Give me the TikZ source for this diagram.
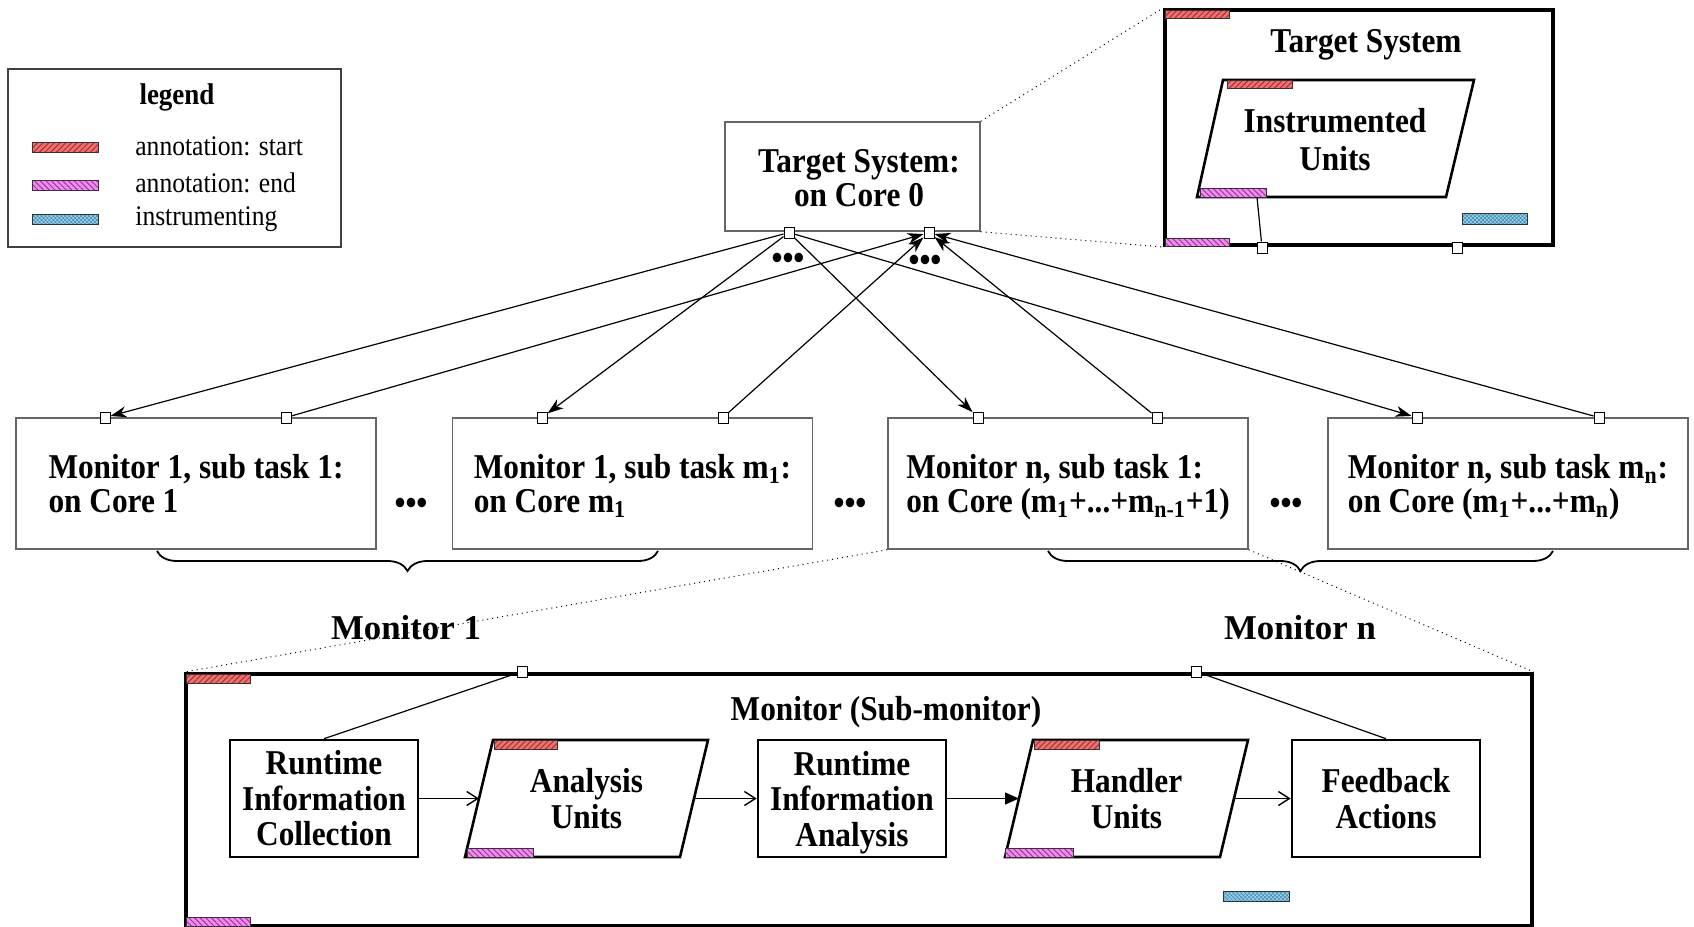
\documentclass[tikz,border=0pt]{standalone}
\usepackage{fontspec}
\setmainfont{Liberation Serif}[FakeStretch=0.9]
\newfontfamily\wideserif{Liberation Serif}
\usetikzlibrary{arrows.meta,patterns.meta,decorations.pathreplacing}
\definecolor{annred}{RGB}{240,112,112}
\definecolor{annredd}{RGB}{175,45,45}
\definecolor{annpink}{RGB}{240,140,240}
\definecolor{annpinkd}{RGB}{165,50,165}
\definecolor{instblue}{RGB}{150,210,235}
\definecolor{instblued}{RGB}{70,140,180}
\tikzset{
  bf/.style={font=\fontsize{17.4}{17}\selectfont\bfseries},
  bfw/.style={font=\fontsize{17.4}{17}\wideserif\bfseries},
  lg/.style={font=\fontsize{14.2}{16}\selectfont},
  grbox/.style={draw=black!60, line width=0.75pt, fill=white, inner sep=0pt},
  blkbox/.style={draw=black, line width=1.3pt, inner sep=0pt},
  pbox/.style={draw=black, line width=1.3pt, line join=miter},
  frame/.style={draw=black, line width=2pt, inner sep=0pt},
  port/.style={draw=black, line width=0.5pt, fill=white, minimum width=5pt, minimum height=5.5pt, inner sep=0pt},
  sw/.style={draw=black!80, line width=0.4pt, minimum width=32pt, minimum height=4.5pt, inner sep=0pt, anchor=north west},
  swred/.style={sw, preaction={fill=annred}, pattern={Lines[angle=45,distance=2pt,line width=0.5pt]}, pattern color=annredd},
  swpink/.style={sw, preaction={fill=annpink}, pattern={Lines[angle=-45,distance=2pt,line width=0.5pt]}, pattern color=annpinkd},
  swblue/.style={sw, preaction={fill=instblue}, pattern={Hatch[angle=45,distance=1.4pt,line width=0.3pt]}, pattern color=instblued},
  conn/.style={line width=0.6pt, -{Stealth[length=8pt,width=5.5pt,inset=2.5pt]}},
  flow/.style={line width=0.7pt, -{Straight Barb[length=5.5pt,width=7pt]}},
  flowt/.style={line width=0.7pt, -{Triangle[length=7pt,width=6pt]}},
  plain/.style={line width=0.6pt},
  zoomline/.style={dotted, line width=0.5pt},
  bracestyle/.style={decorate, decoration={brace,mirror,amplitude=10pt}, line width=0.9pt},
}
\begin{document}
\begin{tikzpicture}[x=0.5pt,y=-0.5pt]
\useasboundingbox (0,0) rectangle (1694,927);

% ---------------- legend
\node[grbox, draw=black!75, minimum width=166.5pt, minimum height=89pt] (legend) at (174.5,158) {};
\node[font=\fontsize{15}{16}\selectfont\bfseries] (legendt) at (177,97) {legend};
\node[swred, minimum width=33pt, minimum height=5pt] (lsw1) at (32,142) {};
\node[swpink, minimum width=33pt, minimum height=5pt] (lsw2) at (32,180) {};
\node[swblue, minimum width=33pt, minimum height=5pt] (lsw3) at (32,214) {};
\node[lg, anchor=base west, inner sep=0pt] (l1) at (135,155) {annotation: start};
\node[lg, anchor=base west, inner sep=0pt] (l2) at (135,192) {annotation: end};
\node[lg, anchor=base west, inner sep=0pt] (l3) at (135,225) {instrumenting};

% ---------------- target system (core 0)
\node[grbox, minimum width=127.5pt, minimum height=54.5pt] (ts) at (852.5,176.5) {};
\node[bf, align=center] (tst) at (859,178) {Target System:\\on Core 0};
\node[port] (tsl) at (789,232.5) {};
\node[port] (tsr) at (929,232.5) {};
\node[bf, inner sep=0pt] (tsd1) at (788,261) {•••};
\node[bf, inner sep=0pt] (tsd2) at (925,263) {•••};

% ---------------- inset: target system
\node[frame, minimum width=194pt, minimum height=117.5pt] (ins) at (1359,127.5) {};
\node[bf] (inst) at (1366,45) {Target System};
\draw[pbox] (1197,197) -- (1223,80) -- (1474,80) -- (1446,197) -- cycle;
\node[bf, align=center, font=\fontsize{17.4}{19}\selectfont\bfseries] (iu) at (1335,140) {Instrumented\\Units};
\node[swred, minimum height=3.8pt] (isw1) at (1165,10) {};
\node[swpink, minimum height=3.8pt] (isw2) at (1165,238) {};
\node[swblue, minimum width=32.5pt, minimum height=5.5pt] (isw3) at (1462,213) {};
\node[swred, minimum width=32.5pt, minimum height=4pt] (isw4) at (1227,80) {};
\node[swpink, minimum width=33pt, minimum height=4.5pt] (isw5) at (1200,188) {};
\node[port] (ip1) at (1262,247.5) {};
\node[port] (ip2) at (1457,247.5) {};
\coordinate (iuout) at (1257,197);
\draw[plain] (iuout) -- (ip1);

\draw[zoomline] (ts.north east) -- (ins.north west);
\draw[zoomline] (ts.south east) -- (ins.south west);

% ---------------- monitor sub task boxes
\node[grbox, bf, align=left, minimum width=180pt, minimum height=65.5pt] (m1) at (196,483.5) {Monitor 1, sub task 1:\\on Core 1};
\node[grbox, bf, align=left, text depth=0pt, minimum width=180pt, minimum height=65.5pt] (m2) at (632.5,483.5) {Monitor 1, sub task m\textsubscript{1}:\\on Core m\textsubscript{1}};
\node[grbox, bf, align=left, text depth=0pt, minimum width=180pt, minimum height=65.5pt] (m3) at (1068,483.5) {Monitor n, sub task 1:\\on Core (m\textsubscript{1}+...+m\textsubscript{n-1}+1)};
\node[grbox, bf, align=left, text depth=0pt, minimum width=180pt, minimum height=65.5pt] (m4) at (1508,483.5) {Monitor n, sub task m\textsubscript{n}:\\on Core (m\textsubscript{1}+...+m\textsubscript{n})};

\node[port] (p1a) at (105,417.5) {};
\node[port] (p1b) at (286,417.5) {};
\node[port] (p2a) at (542,417.5) {};
\node[port] (p2b) at (723,417.5) {};
\node[port] (p3a) at (978,417.5) {};
\node[port] (p3b) at (1157,417.5) {};
\node[port] (p4a) at (1417,417.5) {};
\node[port] (p4b) at (1599,417.5) {};

\node[bf, inner sep=0pt] (rd1) at (411,506) {•••};
\node[bf, inner sep=0pt] (rd2) at (850,506) {•••};
\node[bf, inner sep=0pt] (rd3) at (1286,506) {•••};

\draw[conn] (tsl) -- (p1a);
\draw[conn] (tsl) -- (p2a);
\draw[conn] (tsl) -- (p3a);
\draw[conn] (tsl) -- (p4a);
\draw[conn] (p1b) -- (tsr);
\draw[conn] (p2b) -- (tsr);
\draw[conn] (p3b) -- (tsr);
\draw[conn] (p4b) -- (tsr);

% braces and labels
\draw[bracestyle] (157,551) -- (658,551);
\draw[bracestyle] (1048,551) -- (1553,551);
\node[bfw] (mon1l) at (406,628) {Monitor 1};
\node[bfw] (monnl) at (1300,628) {Monitor n};

% ---------------- monitor (sub-monitor)
\node[frame, minimum width=673pt, minimum height=126pt] (mon) at (859,800) {};
\node[bf] (mont) at (886,712) {Monitor (Sub-monitor)};
\node[port] (mp1) at (522,671.5) {};
\node[port] (mp2) at (1196,671.5) {};
\node[swred] (msw1) at (186,674) {};
\node[swpink] (msw2) at (186,917) {};
\node[swblue, minimum width=33pt, minimum height=5pt] (msw3) at (1223,891) {};

\node[blkbox, bf, align=center, minimum width=94pt, minimum height=58.5pt, font=\fontsize{17.4}{17.75}\selectfont\bfseries] (ric) at (324,798.5) {Runtime\\Information\\Collection};
\draw[pbox] (465,857) -- (493,740) -- (708,740) -- (680,857) -- cycle;
\node[bf, align=center, font=\fontsize{17.4}{17.75}\selectfont\bfseries] (au) at (586.5,798.5) {Analysis\\Units};
\coordinate (auw) at (479,798.5);
\coordinate (aue) at (694,798.5);
\node[swred, minimum width=31.5pt] (asw1) at (494,740) {};
\node[swpink, minimum width=33pt] (asw2) at (467,848) {};

\node[blkbox, bf, align=center, text depth=0pt, minimum width=94pt, minimum height=58.5pt, font=\fontsize{17.4}{17.75}\selectfont\bfseries] (ria) at (852,798.5) {Runtime\\Information\\Analysis};
\draw[pbox] (1005,857) -- (1033,740) -- (1248,740) -- (1220,857) -- cycle;
\node[bf, align=center, font=\fontsize{17.4}{17.75}\selectfont\bfseries] (hu) at (1126.5,798.5) {Handler\\Units};
\coordinate (huw) at (1019,798.5);
\coordinate (hue) at (1234,798.5);
\node[swred, minimum width=32.5pt] (hsw1) at (1034,740) {};
\node[swpink, minimum width=34pt] (hsw2) at (1005,848) {};

\node[blkbox, bf, align=center, minimum width=94pt, minimum height=58.5pt, font=\fontsize{17.4}{17.75}\selectfont\bfseries] (fb) at (1386,798.5) {Feedback\\Actions};

\draw[flow] (ric) -- (auw);
\draw[flow] (aue) -- (ria);
\draw[flowt] (ria) -- (huw);
\draw[flow] (hue) -- (fb);
\draw[plain] (mp1) -- (ric.north);
\draw[plain] (mp2) -- (fb.north);

\draw[zoomline] (m3.south west) -- (mon.north west);
\draw[zoomline] (m3.south east) -- (mon.north east);
\end{tikzpicture}
\end{document}
